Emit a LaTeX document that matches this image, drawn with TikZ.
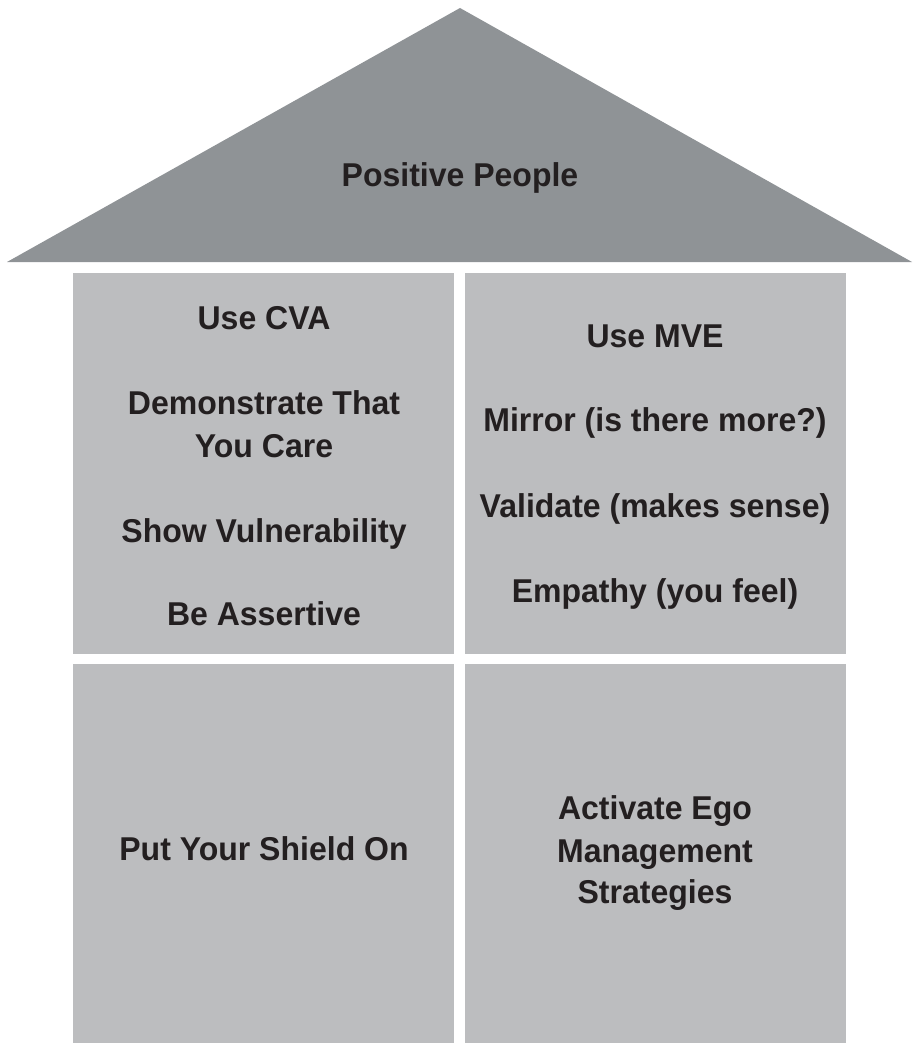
\documentclass[tikz,border=0pt]{standalone}
\usepackage{fontspec}
\setmainfont{Liberation Sans}[FakeStretch=0.97]
\definecolor{roofgray}{HTML}{8F9396}
\definecolor{boxgray}{HTML}{BCBDBF}
\definecolor{txtdark}{HTML}{231F20}
\begin{document}
\begin{tikzpicture}[x=1pt,y=-1pt,
  roofshape/.style={fill=roofgray,draw=none},
  boxshape/.style={fill=boxgray,draw=none},
  txt/.style={anchor=base,inner sep=0pt,text=txtdark,font=\fontsize{33}{40}\selectfont\bfseries}]
\useasboundingbox (0,0) rectangle (912,1043);
% roof
\fill[roofgray] (7,262) -- (460,8) -- (912,262) -- cycle;
% boxes
\fill[boxgray] (73,273) rectangle (454,654);
\fill[boxgray] (465,273) rectangle (846,654);
\fill[boxgray] (73,664) rectangle (454,1043);
\fill[boxgray] (465,664) rectangle (846,1043);
% texts
\node[txt] (roof) at (460,186) {Positive People};
\node[txt] (l1) at (264,329) {Use CVA};
\node[txt] (l2) at (264,414) {Demonstrate That};
\node[txt] (l3) at (264,457) {You Care};
\node[txt] (l4) at (264,542) {Show Vulnerability};
\node[txt] (l5) at (264,625) {Be Assertive};
\node[txt] (r1) at (655,347) {Use MVE};
\node[txt] (r2) at (655,431) {Mirror (is there more?)};
\node[txt] (r3) at (655,517) {Validate (makes sense)};
\node[txt] (r4) at (655,602) {Empathy (you feel)};
\node[txt] (b1) at (264,860) {Put Your Shield On};
\node[txt] (b2) at (655,819) {Activate Ego};
\node[txt] (b3) at (655,862) {Management};
\node[txt] (b4) at (655,903) {Strategies};
\end{tikzpicture}
\end{document}
